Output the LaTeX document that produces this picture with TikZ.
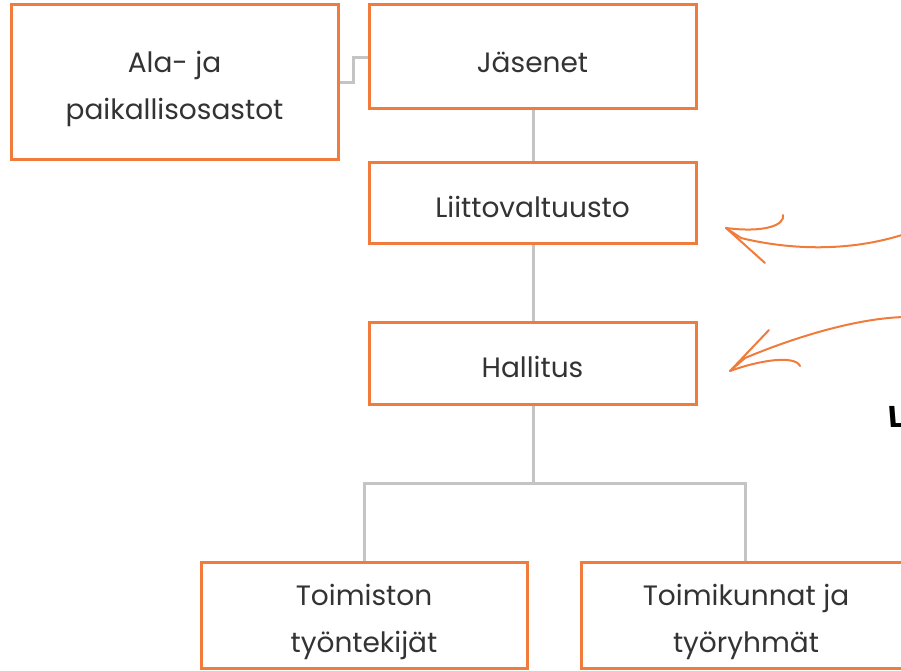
\documentclass[tikz,border=0pt]{standalone}
\usepackage{fontspec}
\setmainfont{Poppins}
\definecolor{boxorange}{HTML}{F07B3A}
\definecolor{linegray}{HTML}{C4C4C4}
\definecolor{txt}{HTML}{333333}
\begin{document}
\begin{tikzpicture}[x=1pt,y=-1pt,
  orgbox/.style={draw=boxorange,line width=3pt,fill=white,inner sep=0pt,font=\fontsize{28}{47}\selectfont,align=center},
  lbltext/.style={text=txt,font=\fontsize{28}{47}\selectfont,align=center,inner sep=0pt},
  conn/.style={draw=linegray,line width=3pt},
  sketch/.style={draw=boxorange,line width=2pt,line cap=round,line join=round}]
\clip (0,0) rectangle (901,671);
\useasboundingbox (0,0) rectangle (901,671);
\draw[conn] (338,83) -- (353,83) -- (353,58) -- (369,58);
\draw[conn] (533,109) -- (533,163);
\draw[conn] (533,243) -- (533,322);
\draw[conn] (533,404) -- (533,483);
\draw[conn] (364,562) -- (364,483) -- (745,483) -- (745,562);
\node[orgbox,minimum width=327pt,minimum height=155pt] (ala) at (174.5,82.5) {};
\node[lbltext] (alat) at (174.5,89) {Ala- ja\\paikallisosastot};
\node[orgbox,minimum width=327pt,minimum height=104pt] (jas) at (532.5,57) {};
\node[lbltext] (jast) at (532.5,62) {Jäsenet};
\node[orgbox,minimum width=327pt,minimum height=80pt] (liit) at (532.5,203) {};
\node[lbltext] (liitt) at (532.5,207) {Liittovaltuusto};
\node[orgbox,minimum width=327pt,minimum height=82pt] (hall) at (532.5,363) {};
\node[lbltext] (hallt) at (532.5,366.5) {Hallitus};
\node[orgbox,minimum width=326pt,minimum height=106pt] (toim) at (364,615) {};
\node[lbltext] (toimt) at (364,622) {Toimiston\\työntekijät};
\node[orgbox,minimum width=330pt,minimum height=106pt] (tk) at (746,615) {};
\node[lbltext] (tkt) at (746,622) {Toimikunnat ja\\työryhmät};
\coordinate (a1s) at (905,234);
\coordinate (a1t) at (726,228);
\draw[sketch] (a1s) .. controls (850,252) and (790,250) .. (741,238) -- (a1t);
\draw[sketch] (a1t) .. controls (765,233) and (785,225) .. (783,215);
\draw[sketch] (a1t) -- (765,263);
\coordinate (a2s) at (905,317);
\coordinate (a2t) at (730,371);
\draw[sketch] (a2s) .. controls (860,318) and (800,335) .. (745,358) -- (a2t);
\draw[sketch] (a2t) -- (769,330);
\draw[sketch] (a2t) .. controls (760,360) and (795,355) .. (800,366);
\node[font=\fontsize{30}{30}\selectfont\bfseries,anchor=west,inner sep=0pt,xslant=-0.08] (lbl) at (888,417) {L};
\end{tikzpicture}
\end{document}
